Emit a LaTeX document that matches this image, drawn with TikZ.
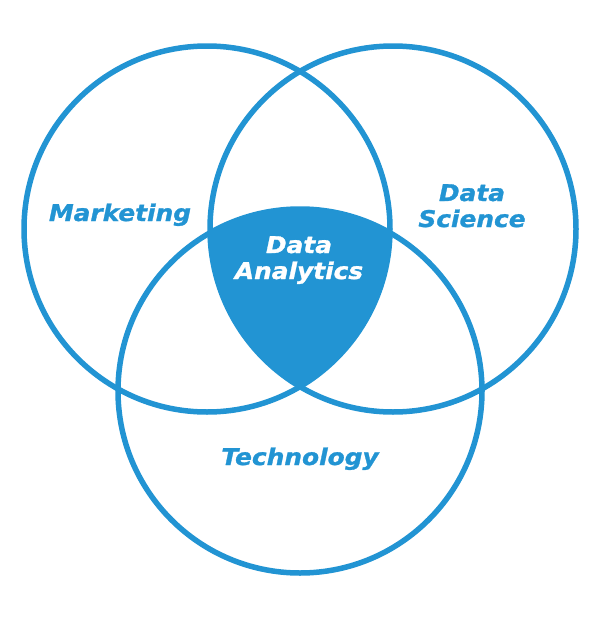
\documentclass[tikz,border=0pt]{standalone}
\usepackage{fontspec}
\newfontfamily\vennfont[FakeStretch=1.08,BoldItalicFeatures={FakeBold=1.2}]{DejaVu Sans}
\usepackage{tikz}

\definecolor{vennblue}{RGB}{34,148,211}

\begin{document}
\begin{tikzpicture}[
  x=1pt, y=-1pt,
  ring/.style={draw=vennblue,line width=5.5pt},
  setlabel/.style={font=\vennfont\bfseries\itshape\fontsize{23}{26}\selectfont,
    text=vennblue,align=center,inner sep=0pt,anchor=base},
  corelabel/.style={setlabel,text=white},
]

% ===================================================================
% Frame (keeps the margins of the page)
% ===================================================================
\useasboundingbox (0,0) rectangle (600,621);

% circle centres
\coordinate (mkt) at (207,229);
\coordinate (sci) at (393,229);
\coordinate (tec) at (300,391);

% ===================================================================
% Triple overlap, filled
% ===================================================================
\begin{scope}
\clip (mkt) circle (183);
\clip (sci) circle (183);
\fill[vennblue] (tec) circle (182);
\end{scope}

% ===================================================================
% Rings
% ===================================================================
\draw[ring] (mkt) circle (183);
\draw[ring] (sci) circle (183);
\draw[ring] (tec) circle (182);

% ===================================================================
% Labels (two-line nodes sit on the baseline of their last line)
% ===================================================================
\node[setlabel] (marketing) at (120,221) {Marketing};
\node[setlabel] (datascience) at (472,227) {Data\\Science};
\node[corelabel] (analytics) at (299,279) {Data\\Analytics};
\node[setlabel] (technology) at (300,465) {Technology};

\end{tikzpicture}
\end{document}
